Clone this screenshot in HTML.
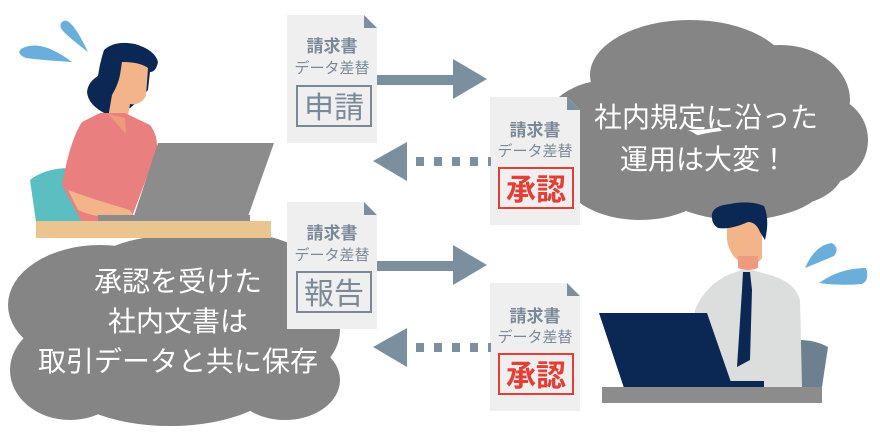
<!DOCTYPE html>
<html><head><meta charset="utf-8"><style>
html,body{margin:0;padding:0;background:#fff;}
svg{display:block;}
text{font-family:"Liberation Sans","Noto Sans CJK JP",sans-serif;}
</style></head><body>
<svg width="880" height="440" viewBox="0 0 880 440" xmlns="http://www.w3.org/2000/svg">
<!-- right cloud -->
<g fill="#858585">
<ellipse cx="690" cy="75" rx="100" ry="55"/>
<ellipse cx="780" cy="100" rx="70" ry="55"/>
<ellipse cx="822" cy="140" rx="46" ry="45"/>
<ellipse cx="610" cy="125" rx="65" ry="45"/>
<ellipse cx="640" cy="170" rx="80" ry="50"/>
<ellipse cx="740" cy="175" rx="90" ry="45"/>
<ellipse cx="790" cy="165" rx="55" ry="40"/>
</g>
<!-- left cloud -->
<g fill="#858585">
<ellipse cx="100" cy="305" rx="92" ry="60"/>
<ellipse cx="230" cy="290" rx="100" ry="58"/>
<ellipse cx="180" cy="270" rx="90" ry="35"/>
<ellipse cx="280" cy="330" rx="60" ry="50"/>
<ellipse cx="70" cy="370" rx="60" ry="50"/>
<ellipse cx="170" cy="378" rx="110" ry="48"/>
<ellipse cx="285" cy="380" rx="55" ry="40"/>
</g>
<text x="706" y="127" font-size="28" fill="#fff" text-anchor="middle">社内規定に沿った</text>
<text x="704" y="169" font-size="28" fill="#fff" text-anchor="middle">運用は大変！</text>
<text x="178" y="291" font-size="28" fill="#fff" text-anchor="middle">承認を受けた</text>
<text x="178" y="331" font-size="28" fill="#fff" text-anchor="middle">社内文書は</text>
<text x="178" y="371" font-size="28" fill="#fff" text-anchor="middle">取引データと共に保存</text>

<!-- woman -->
<path d="M21 49 Q40 38 72 62 Q40 60 26 58 Q16 54 21 49Z" fill="#6aaedc"/>
<path d="M62 22 Q70 14 88 52 Q72 40 64 32 Q58 26 62 22Z" fill="#6aaedc"/>
<path d="M30 180 Q45 168 70 168 L90 222 L36 222 Z" fill="#5bbfc1"/>
<path d="M104 50 Q115 40 135 44 Q155 50 158 62 Q156 72 150 72 L148 90 Q140 100 130 108 L106 114 Q88 105 87 92 Q88 82 98 76 Q100 62 104 50Z" fill="#0b2855"/>
<path d="M122 62 Q140 62 148 68 L146 96 Q140 106 130 104 L128 116 L108 118 L112 95 Q118 85 120 75 Z" fill="#f4b48a"/>
<path d="M100 113 L125 113 L150 125 Q158 135 157 150 L130 222 L82 222 L62 185 Q70 140 82 122 Z" fill="#ea7f80"/>
<path d="M108 114 L125 118 L126 134 Z" fill="#ee9a7f"/>
<path d="M68 190 Q95 200 130 210 L135 218 Q100 220 78 210 Z" fill="#f4b48a"/>
<path d="M158 143 L274 143 L246 222 L132 222 Z" fill="#8c8c8c"/>
<rect x="98" y="215" width="152" height="7" fill="#8c8c8c"/>
<rect x="36" y="221" width="235" height="17" fill="#ebc590"/>

<!-- docs -->
<g>
<path d="M287 15 L364 15 L377 28 L377 143 L287 143Z" fill="#efefef"/>
<path d="M364 15 L377 28 L364 28Z" fill="#7c8f9e"/>
<text x="332" y="52" font-size="17" fill="#7a8898" text-anchor="middle" font-weight="bold">請求書</text>
<text x="332" y="73" font-size="15" fill="#7a8898" text-anchor="middle">データ差替</text>
<rect x="297" y="86" width="74" height="40" fill="none" stroke="#7a8898" stroke-width="2"/>
<text x="334" y="118" font-size="30" fill="#7a8898" text-anchor="middle">申請</text>
</g>
<g>
<path d="M287 202 L364 202 L377 215 L377 329 L287 329Z" fill="#efefef"/>
<path d="M364 202 L377 215 L364 215Z" fill="#7c8f9e"/>
<text x="332" y="239" font-size="17" fill="#7a8898" text-anchor="middle" font-weight="bold">請求書</text>
<text x="332" y="260" font-size="15" fill="#7a8898" text-anchor="middle">データ差替</text>
<rect x="297" y="272" width="74" height="40" fill="none" stroke="#7a8898" stroke-width="2"/>
<text x="334" y="304" font-size="30" fill="#7a8898" text-anchor="middle">報告</text>
</g>
<g>
<path d="M490 97 L567 97 L580 110 L580 225 L490 225Z" fill="#efefef"/>
<path d="M567 97 L580 110 L567 110Z" fill="#7c8f9e"/>
<text x="535" y="136" font-size="17" fill="#7a8898" text-anchor="middle" font-weight="bold">請求書</text>
<text x="535" y="156" font-size="15" fill="#7a8898" text-anchor="middle">データ差替</text>
<rect x="499" y="168" width="74" height="40" fill="none" stroke="#e53f35" stroke-width="2"/>
<text x="536" y="200" font-size="30" fill="#e53f35" text-anchor="middle" font-weight="bold">承認</text>
</g>
<g>
<path d="M490 283 L567 283 L580 296 L580 411 L490 411Z" fill="#efefef"/>
<path d="M567 283 L580 296 L567 296Z" fill="#7c8f9e"/>
<text x="535" y="322" font-size="17" fill="#7a8898" text-anchor="middle" font-weight="bold">請求書</text>
<text x="535" y="342" font-size="15" fill="#7a8898" text-anchor="middle">データ差替</text>
<rect x="499" y="354" width="74" height="40" fill="none" stroke="#e53f35" stroke-width="2"/>
<text x="536" y="386" font-size="30" fill="#e53f35" text-anchor="middle" font-weight="bold">承認</text>
</g>

<!-- arrows -->
<g fill="#7c8f9e">
<rect x="377" y="75" width="78" height="10"/><path d="M453 59 L487 79 L453 99Z"/>
<rect x="377" y="261" width="78" height="10"/><path d="M453 245 L487 265 L453 285Z"/>
<path d="M407 142 L373 161 L407 181Z"/>
<rect x="416" y="157" width="8" height="9"/><rect x="434" y="157" width="8" height="9"/><rect x="452" y="157" width="8" height="9"/><rect x="470" y="157" width="8" height="9"/><rect x="488" y="157" width="3" height="9"/>
<path d="M407 328 L373 347 L407 367Z"/>
<rect x="416" y="343" width="8" height="9"/><rect x="434" y="343" width="8" height="9"/><rect x="452" y="343" width="8" height="9"/><rect x="470" y="343" width="8" height="9"/><rect x="488" y="343" width="3" height="9"/>
</g>

<!-- man -->
<path d="M800 340 Q815 340 828 347 L822 387 L800 387Z" fill="#6d8090"/>
<path d="M727 220 L762 220 L762 258 Q755 268 745 265 Q730 258 727 240Z" fill="#f4b48a"/>
<path d="M738 256 L758 256 L758 268 Q748 272 738 268Z" fill="#ee9a7f"/>
<path d="M712 218 Q710 206 730 204 Q750 200 764 206 Q770 220 765 240 L760 232 Q756 222 748 222 Q730 230 718 228 Q712 224 712 218Z" fill="#0b2855"/>
<path d="M695 310 Q705 285 730 274 L742 270 L752 270 L770 275 Q795 282 800 300 L802 387 L690 387 Z" fill="#dcdedd"/>
<path d="M743 272 L750 272 L752 290 L750 360 L737 367 L742 290Z" fill="#0b2855"/>
<path d="M599 313 L707 313 L733 388 L624 388Z" fill="#0b2855"/>
<rect x="700" y="381" width="64" height="7" fill="#0b2855"/>
<rect x="602" y="387" width="220" height="16" fill="#8c8c8c"/>
<path d="M805 268 Q815 245 832 243 Q840 248 834 256 Q820 262 805 268Z" fill="#6aaedc"/>
<path d="M819 283 Q840 268 866 268 Q870 280 862 284 Q840 286 819 283Z" fill="#6aaedc"/>
</svg>
</body></html>
